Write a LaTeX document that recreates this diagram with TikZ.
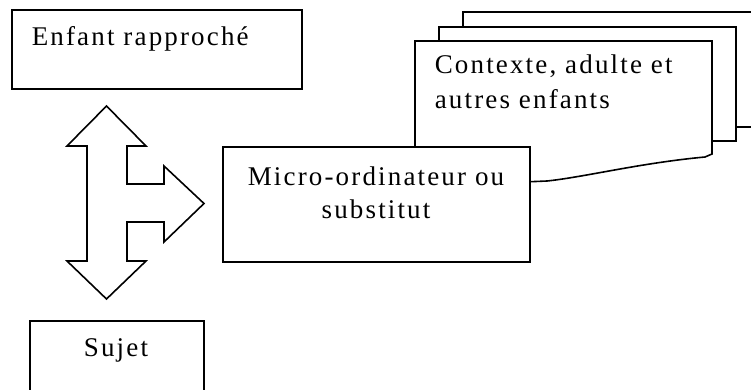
\documentclass[tikz,border=0pt]{standalone}
\usepackage{fontspec}
\setmainfont{Liberation Serif}[LetterSpace=8]
\begin{document}
\begin{tikzpicture}[x=1pt,y=-1pt,line width=1.6pt,
  boxshape/.style={draw=black,fill=white,line join=miter},
  lbl/.style={inner sep=0pt,font=\fontsize{27}{33}\selectfont}]
\useasboundingbox (0,0) rectangle (751,389);
\clip (0,0) rectangle (751,389);
% stacked boxes (back to front)
\path[boxshape] (463,12) rectangle (780,127);
\path[boxshape] (439,27) rectangle (736,141);
\path[boxshape] (415,41) -- (712,41) -- (712,154) -- (705,157)
  .. controls (640,163) and (585,177) .. (547,181) -- (500,183) -- (415,185) -- cycle;
\node[lbl,anchor=base west,align=left,font=\fontsize{27}{35}\selectfont] (ctxtxt) at (434,108) {Contexte, adulte et\\autres enfants};
% micro box
\node[boxshape,minimum width=307pt,minimum height=115pt,inner sep=0pt] (micro) at (376.5,204.5) {};
\node[lbl,anchor=base,align=center] (microtxt) at (376,218) {Micro-ordinateur ou\\substitut};
% enfant box
\node[boxshape,minimum width=290pt,minimum height=79pt,inner sep=0pt] (enfant) at (157,49.5) {};
\node[lbl,anchor=base west] (enfanttxt) at (31,45) {Enfant rapproché};
% sujet box
\node[boxshape,minimum width=174pt,minimum height=90pt,inner sep=0pt] (sujet) at (117,366) {};
\node[lbl,anchor=base] (sujettxt) at (116,356) {Sujet};
% block arrow
\path[boxshape] (106.5,106) -- (146,146) -- (127,146) -- (127,184) -- (164,184) -- (164,166)
  -- (204,203.5) -- (164,242) -- (164,222) -- (127,222) -- (127,261) -- (146,261)
  -- (106.5,299) -- (67,261) -- (87,261) -- (87,146) -- (67,146) -- cycle;
\end{tikzpicture}
\end{document}
